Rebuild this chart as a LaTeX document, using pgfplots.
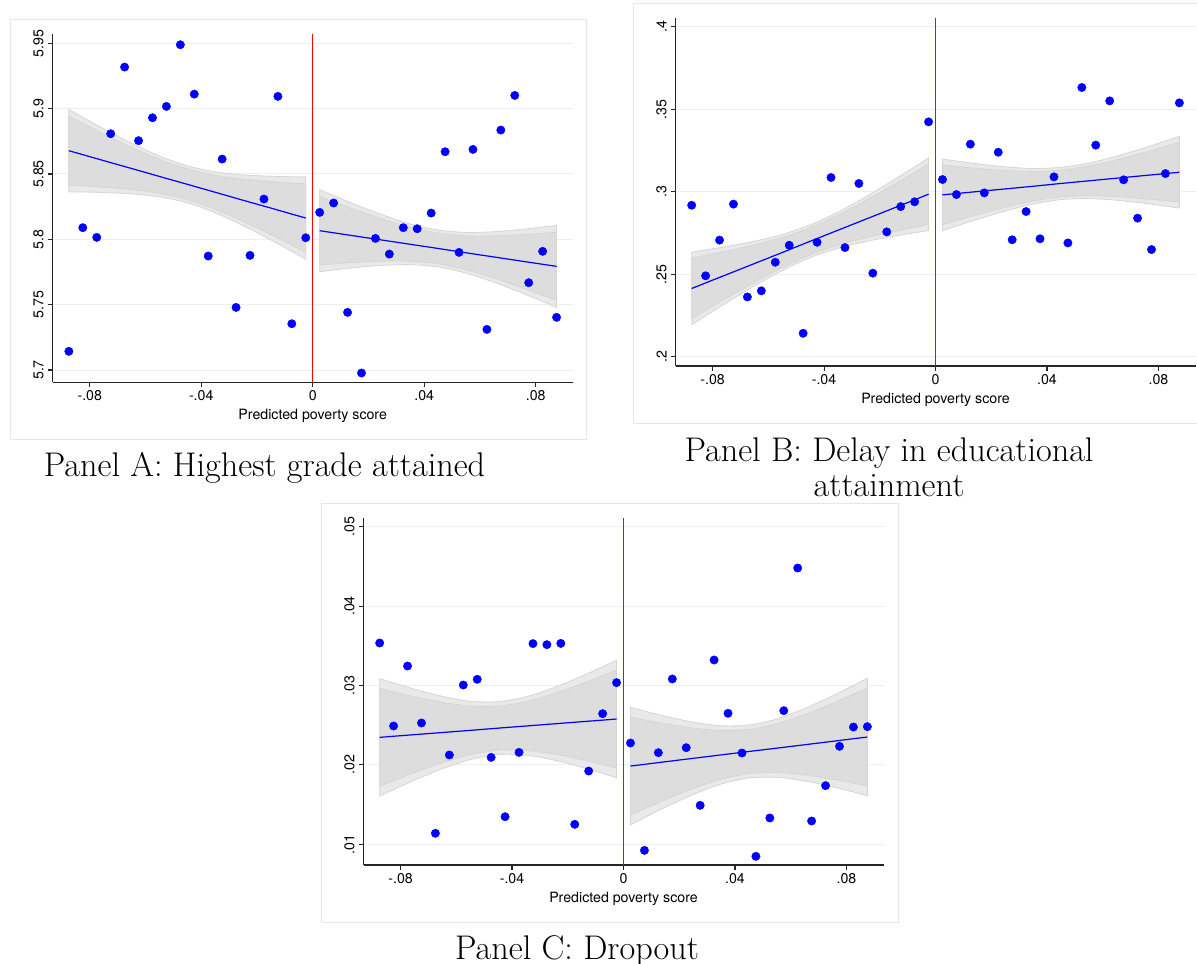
\documentclass[border=0pt]{standalone}
\usepackage{fontspec}
\usepackage{pgfplots}
\pgfplotsset{compat=1.18}
\usepackage{pgfplotstable}
\usepgfplotslibrary{fillbetween}
\newfontfamily\axfont{TeX Gyre Heros}
\definecolor{ciouter}{gray}{0.915}
\definecolor{ciinner}{gray}{0.865}
\definecolor{ciedge}{gray}{0.84}
\definecolor{gridc}{RGB}{232,240,242}
\definecolor{framec}{RGB}{226,233,236}

% ---------- binned scatter points ----------
\pgfplotstableread{
x y
-0.0875 5.7143
-0.0825 5.8089
-0.0775 5.8015
-0.0725 5.8808
-0.0675 5.9318
-0.0625 5.8755
-0.0575 5.8930
-0.0525 5.9017
-0.0475 5.9489
-0.0425 5.9111
-0.0375 5.7872
-0.0325 5.8614
-0.0275 5.7479
-0.0225 5.7877
-0.0175 5.8308
-0.0125 5.9094
-0.0075 5.7354
-0.0025 5.8012
0.0025 5.8206
0.0075 5.8278
0.0125 5.7441
0.0175 5.6977
0.0225 5.8007
0.0275 5.7887
0.0325 5.8089
0.0375 5.8081
0.0425 5.8201
0.0475 5.8670
0.0525 5.7900
0.0575 5.8688
0.0625 5.7311
0.0675 5.8836
0.0725 5.9101
0.0775 5.7668
0.0825 5.7908
0.0875 5.7403
}\ptsA
\pgfplotstableread{
x y
-0.0875 0.2918
-0.0825 0.2491
-0.0775 0.2707
-0.0725 0.2925
-0.0675 0.2363
-0.0625 0.2400
-0.0575 0.2573
-0.0525 0.2676
-0.0475 0.2143
-0.0425 0.2694
-0.0375 0.3086
-0.0325 0.2662
-0.0275 0.3050
-0.0225 0.2507
-0.0175 0.2757
-0.0125 0.2910
-0.0075 0.2939
-0.0025 0.3423
0.0025 0.3074
0.0075 0.2983
0.0125 0.3288
0.0175 0.2993
0.0225 0.3239
0.0275 0.2709
0.0325 0.2880
0.0375 0.2715
0.0425 0.3090
0.0475 0.2690
0.0525 0.3631
0.0575 0.3282
0.0625 0.3550
0.0675 0.3072
0.0725 0.2840
0.0775 0.2650
0.0825 0.3110
0.0875 0.3538
}\ptsB
\pgfplotstableread{
x y
-0.0875 0.03535
-0.0825 0.02490
-0.0775 0.03245
-0.0725 0.02528
-0.0675 0.01139
-0.0625 0.02125
-0.0575 0.03006
-0.0525 0.03078
-0.0475 0.02095
-0.0425 0.01348
-0.0375 0.02158
-0.0325 0.03527
-0.0275 0.03514
-0.0225 0.03530
-0.0175 0.01252
-0.0125 0.01923
-0.0075 0.02645
-0.0025 0.03036
0.0025 0.02276
0.0075 0.00924
0.0125 0.02154
0.0175 0.03082
0.0225 0.02217
0.0275 0.01491
0.0325 0.03321
0.0375 0.02650
0.0425 0.02150
0.0475 0.00849
0.0525 0.01332
0.0575 0.02683
0.0625 0.04479
0.0675 0.01294
0.0725 0.01739
0.0775 0.02234
0.0825 0.02477
0.0875 0.02482
}\ptsC

% ---------- fitted lines (c) and relative CI half-width (r) ----------
\pgfplotstableread{
x c r
-0.0875 5.8678 1
-0.0825 5.8648 0.9074
-0.075 5.8602 0.7745
-0.065 5.8542 0.6157
-0.055 5.8481 0.4966
-0.045 5.8421 0.45
-0.035 5.8360 0.4966
-0.025 5.8299 0.6157
-0.015 5.8239 0.7745
-0.0075 5.8193 0.9074
-0.0025 5.8163 1
}\fitAL
\pgfplotstableread{
x c r
0.0025 5.8066 1
0.0075 5.8050 0.9074
0.015 5.8026 0.7745
0.025 5.7994 0.6157
0.035 5.7962 0.4966
0.045 5.7930 0.45
0.055 5.7897 0.4966
0.065 5.7865 0.6157
0.075 5.7833 0.7745
0.0825 5.7809 0.9074
0.0875 5.7793 1
}\fitAR
\pgfplotstableread{
x c r
-0.0875 0.2414 1
-0.0825 0.2448 0.9074
-0.075 0.2498 0.7745
-0.065 0.2565 0.6157
-0.055 0.2632 0.4966
-0.045 0.2700 0.45
-0.035 0.2767 0.4966
-0.025 0.2834 0.6157
-0.015 0.2901 0.7745
-0.0075 0.2951 0.9074
-0.0025 0.2985 1
}\fitBL
\pgfplotstableread{
x c r
0.0025 0.2981 1
0.0075 0.2989 0.9074
0.015 0.3001 0.7745
0.025 0.3017 0.6157
0.035 0.3033 0.4966
0.045 0.3050 0.45
0.055 0.3066 0.4966
0.065 0.3082 0.6157
0.075 0.3098 0.7745
0.0825 0.3110 0.9074
0.0875 0.3118 1
}\fitBR
\pgfplotstableread{
x c r
-0.0875 0.02347 1
-0.0825 0.02361 0.9074
-0.075 0.02381 0.7745
-0.065 0.02408 0.6157
-0.055 0.02435 0.4966
-0.045 0.02463 0.45
-0.035 0.02490 0.4966
-0.025 0.02517 0.6157
-0.015 0.02544 0.7745
-0.0075 0.02564 0.9074
-0.0025 0.02578 1
}\fitCL
\pgfplotstableread{
x c r
0.0025 0.01986 1
0.0075 0.02007 0.9074
0.015 0.02040 0.7745
0.025 0.02083 0.6157
0.035 0.02126 0.4966
0.045 0.02169 0.45
0.055 0.02211 0.4966
0.065 0.02254 0.6157
0.075 0.02297 0.7745
0.0825 0.02330 0.9074
0.0875 0.02351 1
}\fitCR

% cutoff line (x = 0) from bottom to top of each axis
\pgfplotstableread{
x yA yB yC
0 5.6906 0.1945 0.0074
0 5.9569 0.405 0.05105
}\cutoff

% #1 table, #2 outer half-width at ends, #3 unique id
\newcommand\band[3]{%
 \addplot[name path=#3ou, draw=none, smooth, forget plot] table[x=x, y expr=\thisrow{c}+#2*\thisrow{r}] {#1};
 \addplot[name path=#3ol, draw=none, smooth, forget plot] table[x=x, y expr=\thisrow{c}-#2*\thisrow{r}] {#1};
 \addplot[name path=#3iu, draw=none, smooth, forget plot] table[x=x, y expr=\thisrow{c}+#2/1.2*\thisrow{r}] {#1};
 \addplot[name path=#3il, draw=none, smooth, forget plot] table[x=x, y expr=\thisrow{c}-#2/1.2*\thisrow{r}] {#1};
 \addplot[fill=ciouter, draw=ciedge, line width=0.4pt] fill between[of=#3ou and #3ol];
 \addplot[fill=ciinner, draw=ciedge, line width=0.4pt] fill between[of=#3iu and #3il];
 \addplot[draw=blue, line width=0.6pt] table[x=x, y=c] {#1};
}

\pgfplotsset{
 geomA/.style={scale only axis, width=260pt, anchor=south west, xmin=-0.0933, xmax=0.0933,
   at={(26.35pt,290.35pt)}, height=174pt, ymin=5.6906, ymax=5.9569},
 geomB/.style={scale only axis, width=260pt, anchor=south west, xmin=-0.0933, xmax=0.0933,
   at={(337.75pt,298.5pt)}, height=173.85pt, ymin=0.1945, ymax=0.405},
 geomC/.style={scale only axis, width=260pt, anchor=south west, xmin=-0.0933, xmax=0.0933,
   at={(181.75pt,49pt)}, height=173.35pt, ymin=0.0074, ymax=0.05105},
 rd/.style={
  axis lines=left, axis line style={-, line width=0.55pt, black!85},
  xtick={-0.08,-0.04,0,0.04,0.08}, xticklabels={-.08,-.04,0,.04,.08},
  scaled ticks=false,
  tick align=outside, major tick length=2.5pt,
  tick style={line width=0.55pt, black!85},
  ymajorgrids, grid style={line width=0.5pt, gridc},
  font=\axfont\fontsize{7.1}{8.5}\selectfont,
  yticklabel style={rotate=90, anchor=south, inner sep=1.8pt},
  xticklabel style={inner sep=1.5pt},
  xlabel={Predicted poverty score},
  xlabel style={inner sep=0pt, yshift=-2.5pt},
  /pgf/number format/assume math mode=true,
 }}
\newcommand\pts[1]{\addplot[only marks, mark=*, mark size=2.1pt, mark options={fill=blue, draw=blue, line width=0.2pt}] table[x=x,y=y] {#1};}

\begin{document}
\begin{tikzpicture}
\draw[framec, line width=0.5pt] (5.15pt,261.85pt) rectangle (293.15pt,471.85pt);
\draw[framec, line width=0.5pt] (316.65pt,269.85pt) rectangle (600pt,479.85pt);
\draw[framec, line width=0.5pt] (160.85pt,20.15pt) rectangle (449.15pt,229.85pt);

% red cutoff lines, each in a bare overlay axis drawn before the panels
\begin{axis}[geomA, hide axis]
\addplot[draw=red, line width=0.6pt] table[x=x, y=yA] {\cutoff};
\end{axis}
\begin{axis}[geomB, hide axis]
\addplot[draw=red, line width=0.6pt] table[x=x, y=yB] {\cutoff};
\end{axis}
\begin{axis}[geomC, hide axis]
\addplot[draw=red, line width=0.6pt] table[x=x, y=yC] {\cutoff};
\end{axis}

% Panel A
\begin{axis}[geomA, rd,
  ytick={5.7,5.75,5.8,5.85,5.9,5.95}, yticklabels={5.7,5.75,5.8,5.85,5.9,5.95}]
\band{\fitAL}{0.0315}{al}
\band{\fitAR}{0.0314}{ar}
\pts{\ptsA}
\end{axis}

% Panel B
\begin{axis}[geomB, rd,
  ytick={0.2,0.25,0.3,0.35,0.4}, yticklabels={.2,.25,.3,.35,.4}]
\band{\fitBL}{0.022}{bl}
\band{\fitBR}{0.0217}{br}
\pts{\ptsB}
\end{axis}

% Panel C
\begin{axis}[geomC, rd,
  ytick={0.01,0.02,0.03,0.04,0.05}, yticklabels={.01,.02,.03,.04,.05}]
\band{\fitCL}{0.0074}{cl}
\band{\fitCR}{0.0074}{cr}
\pts{\ptsC}
\end{axis}

\node[font=\fontsize{17.1}{19}\selectfont, anchor=base, inner sep=0pt] at (132.25pt,243pt) {Panel A: Highest grade attained};
\node[font=\fontsize{17.1}{19}\selectfont, anchor=base, inner sep=0pt] at (444.5pt,250.5pt) {Panel B: Delay in educational};
\node[font=\fontsize{17.1}{19}\selectfont, anchor=base, inner sep=0pt] at (444.5pt,233pt) {attainment};
\node[font=\fontsize{17.1}{19}\selectfont, anchor=base, inner sep=0pt] at (288.5pt,2pt) {Panel C: Dropout};

\pgfresetboundingbox
\useasboundingbox (0,0) rectangle (598.5pt,481.5pt);
\end{tikzpicture}
\end{document}
